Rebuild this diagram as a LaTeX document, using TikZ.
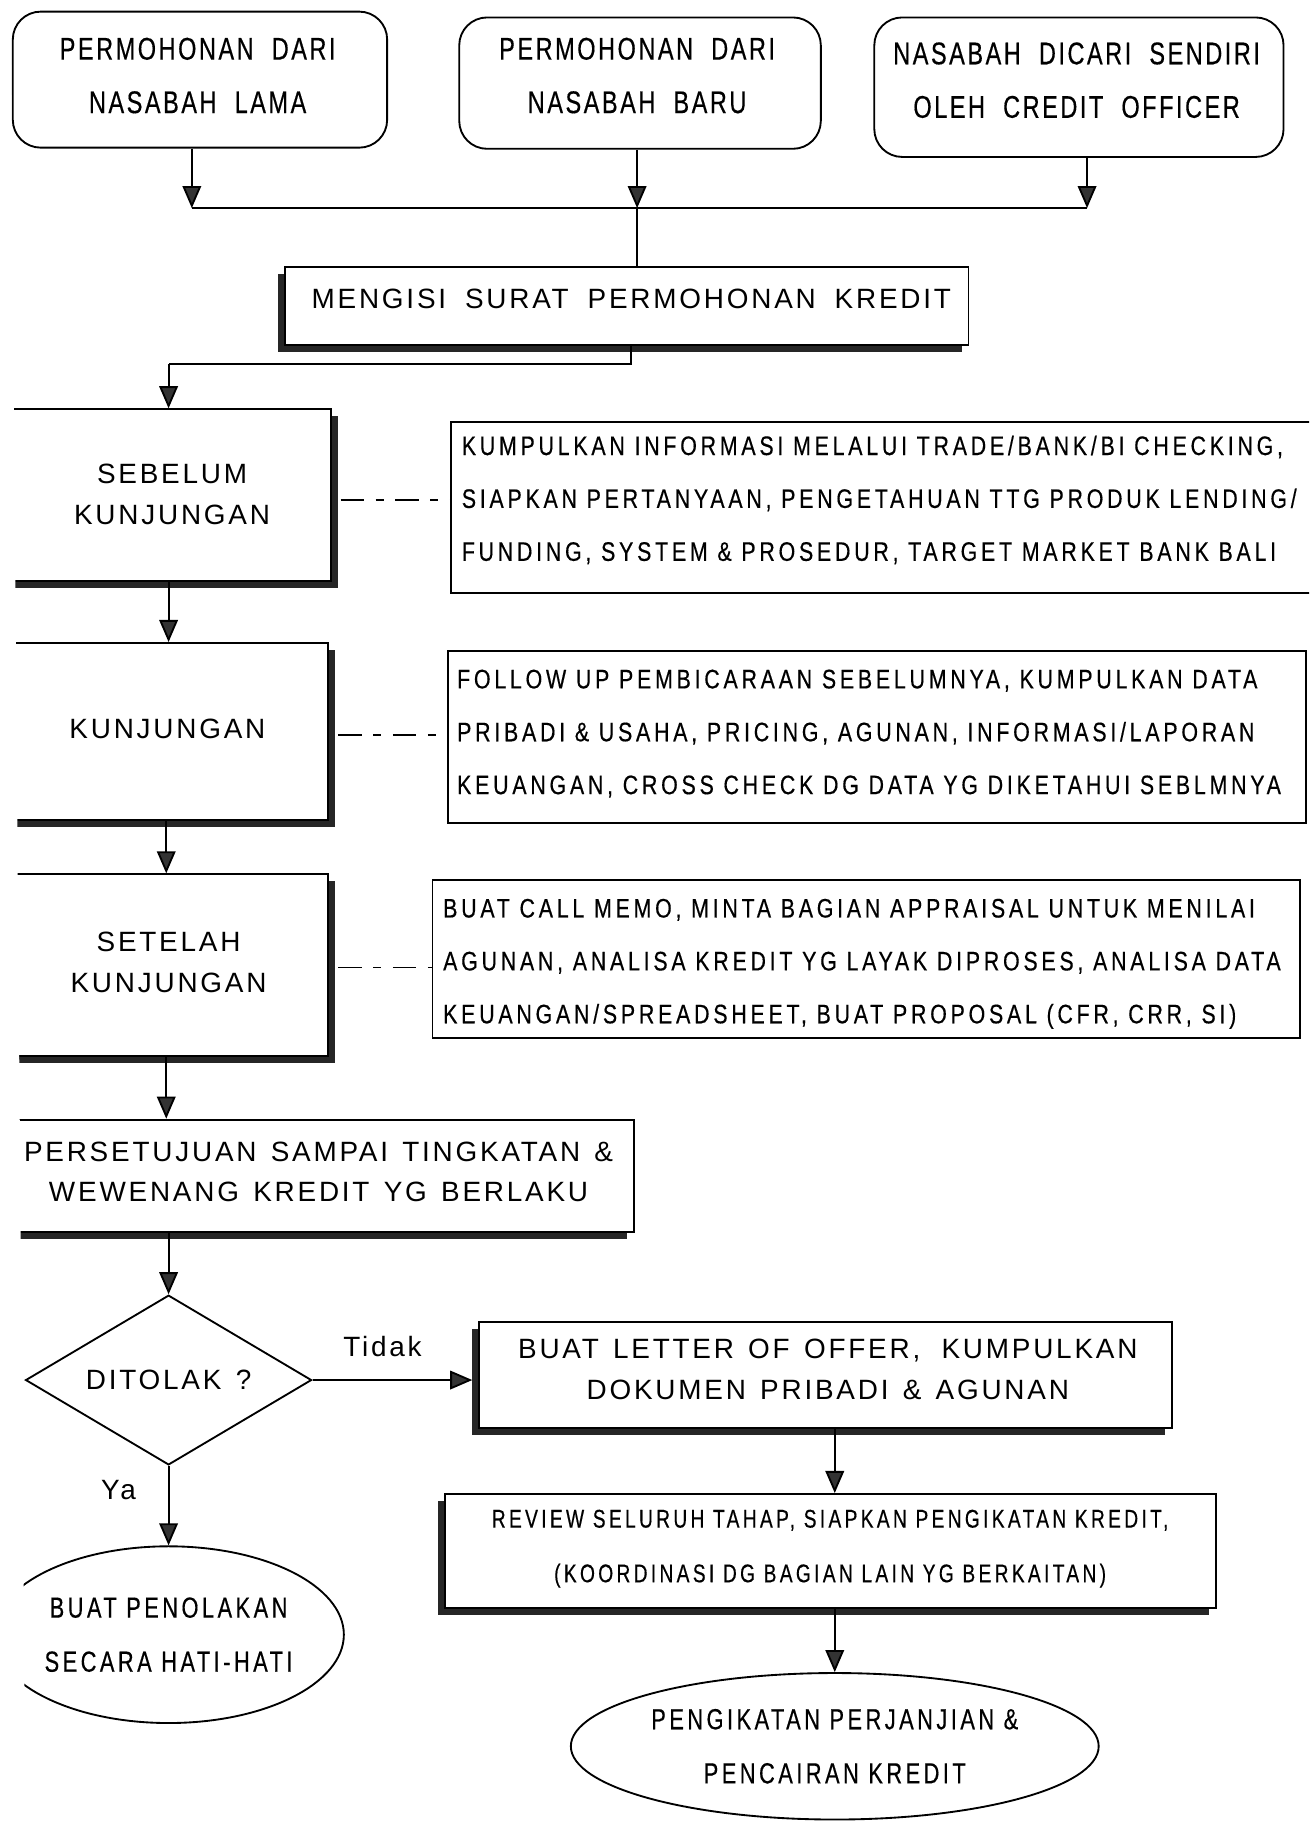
\documentclass[tikz,border=0pt]{standalone}
\usepackage{fontspec}
\setmainfont{Liberation Sans}
\newfontfamily\rf[LetterSpace=10,WordSpace=1.35]{Liberation Sans}
\newfontfamily\nf[FakeStretch=0.8,LetterSpace=14,FakeBold=0.4]{Liberation Sans}
\newfontfamily\nft[FakeStretch=0.75,LetterSpace=8,WordSpace=2,FakeBold=0.4]{Liberation Sans}
\newfontfamily\nfe[FakeStretch=0.75,LetterSpace=12,FakeBold=0.4]{Liberation Sans}
\newfontfamily\nfr[FakeStretch=0.75,LetterSpace=13,FakeBold=0.4]{Liberation Sans}
\usetikzlibrary{arrows.meta,shapes.geometric,shadows,fit}
\begin{document}
\begin{tikzpicture}[x=1pt,y=-1pt,
  ln/.style={line width=1.6pt},
  arr/.style={line width=1.6pt,-{Triangle[length=19pt,width=16pt,fill=black!80]}},
  dsh/.style={line width=1.3pt,dash pattern=on 20pt off 10pt on 7pt off 10pt},
  box/.style={draw,line width=1.6pt,inner sep=0pt,fill=white},
  rbox/.style={box,rounded corners=24pt},
  shR/.style={drop shadow={shadow xshift=6pt,shadow yshift=-6pt,fill=black!85,opacity=1}},
  shL/.style={drop shadow={shadow xshift=-6pt,shadow yshift=-6pt,fill=black!85,opacity=1}},
  ttop/.style={font=\nft\fontsize{27}{46}\selectfont,align=center,inner sep=0pt},
  treg/.style={font=\rf\fontsize{24}{35}\selectfont,align=center,inner sep=0pt},
  tinfo/.style={font=\nf\fontsize{23}{45.5}\selectfont,align=left,inner sep=0pt,anchor=west},
  trev/.style={font=\nfr\fontsize{22}{47}\selectfont,align=center,inner sep=0pt},
  tell/.style={font=\nfe\fontsize{25}{46.5}\selectfont,align=center,inner sep=0pt}
]
\useasboundingbox (0,0) rectangle (1126,1568);
\clip (0,0) rectangle (1126,1568);
\fill[white] (0,0) rectangle (1126,1568);

% top boxes
\node[rbox,fit={(11,10) (333,127)}] (b1) {};
\node[ttop] (b1t) at (170,65) {PERMOHONAN DARI\\NASABAH LAMA};
\node[rbox,fit={(395,15) (706,128)}] (b2) {};
\node[ttop] (b2t) at (548,65) {PERMOHONAN DARI\\NASABAH BARU};
\node[rbox,fit={(752,15) (1104,135)}] (b3) {};
\node[ttop] (b3t) at (926,69) {NASABAH DICARI SENDIRI\\OLEH CREDIT OFFICER};

\coordinate (j1) at (165,179);
\coordinate (j2) at (548,179);
\coordinate (j3) at (935,179);

% mengisi
\node[box,shL,fit={(245,230) (833,297)}] (mengisi) {};
\node[treg] (mengisit) at (543,257) {MENGISI\hspace{4pt} SURAT\hspace{4pt} PERMOHONAN\hspace{4pt} KREDIT};

% left column
\node[box,shR,fit={(-10,352) (285,500)}] (sebelum) {};
\node[treg] (sebelumt) at (148,425) {SEBELUM\\KUNJUNGAN};
\node[box,shR,fit={(-10,553) (282,705)}] (kunj) {};
\node[treg] (kunjt) at (144,627) {KUNJUNGAN};
\node[box,shR,fit={(-10,752) (282,908)}] (setelah) {};
\node[treg] (setelaht) at (145,828) {SETELAH\\KUNJUNGAN};
\node[box,shL,fit={(-10,963) (545,1060)}] (pers) {};
\node[treg] (perst) at (274,1008) {PERSETUJUAN SAMPAI TINGKATAN \&\\WEWENANG KREDIT YG BERLAKU};

% info boxes
\node[box,fit={(388,363) (1135,510)}] (info1) {};
\node[tinfo] (info1t) at (397,430) {KUMPULKAN INFORMASI MELALUI TRADE/BANK/BI CHECKING,\\SIAPKAN PERTANYAAN, PENGETAHUAN TTG PRODUK LENDING/\\FUNDING, SYSTEM \& PROSEDUR, TARGET MARKET BANK BALI};
\node[box,fit={(385,560) (1123,708)}] (info2) {};
\node[tinfo] (info2t) at (393,631) {FOLLOW UP PEMBICARAAN SEBELUMNYA, KUMPULKAN DATA\\PRIBADI \& USAHA, PRICING, AGUNAN, INFORMASI/LAPORAN\\KEUANGAN, CROSS CHECK DG DATA YG DIKETAHUI SEBLMNYA};
\node[box,fit={(372,757) (1118,893)}] (info3) {};
\node[tinfo] (info3t) at (381,829) {BUAT CALL MEMO, MINTA BAGIAN APPRAISAL UNTUK MENILAI\\AGUNAN, ANALISA KREDIT YG LAYAK DIPROSES, ANALISA DATA\\KEUANGAN/SPREADSHEET, BUAT PROPOSAL (CFR, CRR, SI)};

% decision
\node[diamond,draw,line width=1.6pt,fill=white,minimum width=246pt,minimum height=146pt,inner sep=0pt,aspect=1.7,treg] (dit) at (145,1187) {DITOLAK ?};
\node[box,shL,fit={(412,1137) (1008,1228)}] (letter) {};
\node[treg] (lettert) at (712,1178) {BUAT LETTER OF OFFER,\hspace{6pt} KUMPULKAN\\DOKUMEN PRIBADI \& AGUNAN};
\node[box,shL,fit={(383,1285) (1046,1383)}] (review) {};
\node[trev] (reviewt) at (714,1332) {REVIEW SELURUH TAHAP, SIAPKAN PENGIKATAN KREDIT,\\(KOORDINASI DG BAGIAN LAIN YG BERKAITAN)};
\node[ellipse,draw,line width=1.6pt,minimum width=274pt,minimum height=152pt,inner sep=0pt,tell] (ell1) at (145,1406) {BUAT PENOLAKAN\\SECARA HATI-HATI};
\node[ellipse,draw,line width=1.6pt,minimum width=454pt,minimum height=126pt,inner sep=0pt,tell] (ell2) at (718,1502) {PENGIKATAN PERJANJIAN \&\\PENCAIRAN KREDIT};

\node[treg,font=\rf\fontsize{24}{28}\selectfont] (tidak) at (329,1158) {Tidak};
\node[treg,font=\rf\fontsize{24}{28}\selectfont] (ya) at (102,1282) {Ya};

% connectors
\draw[arr] (b1.south -| j1) -- (j1);
\draw[arr] (b2.south -| j2) -- (j2);
\draw[arr] (b3.south -| j3) -- (j3);
\draw[ln] (j1) -- (j3);
\draw[ln] (j2) -- (j2 |- mengisi.north);
\coordinate (m1) at (543,313);
\coordinate (m2) at (145,313);
\coordinate (cx) at (143,0);
\draw[ln] (mengisi.south -| m1) -- (m1) -- (m2);
\draw[arr] (m2) -- (m2 |- sebelum.north);
\draw[arr] (sebelum.south -| m2) -- (kunj.north -| m2);
\draw[arr] (kunj.south -| cx) -- (setelah.north -| cx);
\draw[arr] (setelah.south -| cx) -- (pers.north -| cx);
\draw[arr] (dit.north |- pers.south) -- (dit.north);
\draw[arr] (dit.east) -- ([xshift=-5pt]letter.west |- dit.east);
\draw[arr] (dit.south) -- (ell1.north);
\coordinate (rx) at (718,0);
\draw[arr] (letter.south -| rx) -- (review.north -| rx);
\draw[arr] (review.south -| rx) -- (ell2.north);

\coordinate (d1) at (293,430);
\coordinate (d2) at (291,632);
\coordinate (d3) at (291,832);
\draw[dsh] (d1) -- (d1 -| info1.west);
\draw[dsh] (d2) -- (d2 -| info2.west);
\draw[dsh] (d3) -- (d3 -| info3.west);

% scanned page edge
\fill[white] (0,0) -- (9,0) -- (22,1568) -- (0,1568) -- cycle;
\end{tikzpicture}
\end{document}
